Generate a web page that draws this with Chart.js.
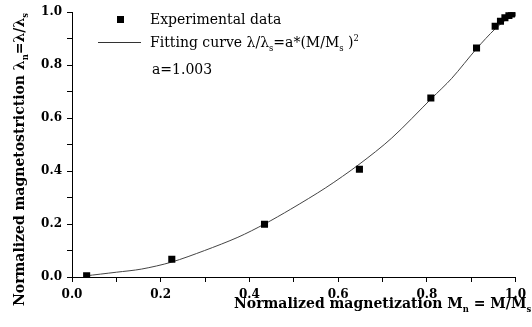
<!DOCTYPE html>
<html lang="en">
<head>
    <meta charset="UTF-8">
    <title>Normalized magnetostriction vs magnetization</title>
    <script src="https://cdn.jsdelivr.net/npm/chart.js"></script>
    <style>
        body {
            margin: 0;
            background-color: #fff;
        }
        canvas {
            display: block;
        }
    </style>
</head>
<body>
    <canvas id="magChart" width="532" height="327"></canvas>

    <script>
        // Experimental points
        const expX = [0.033, 0.225, 0.434, 0.648, 0.809, 0.912, 0.954, 0.966, 0.976, 0.985, 0.991, 0.996];
        const expY = [0.005, 0.067, 0.199, 0.407, 0.676, 0.865, 0.947, 0.966, 0.979, 0.988, 0.993, 0.997];

        // Fitted curve
        const fitX = [0.029, 0.100, 0.157, 0.224, 0.299, 0.374, 0.434, 0.493, 0.572, 0.647, 0.721, 0.811, 0.856, 0.912, 0.954, 0.999];
        const fitY = [0.004, 0.018, 0.030, 0.056, 0.100, 0.150, 0.200, 0.256, 0.337, 0.425, 0.525, 0.675, 0.750, 0.862, 0.937, 1.000];

        const tickLabels = ['0.0', '0.2', '0.4', '0.6', '0.8', '1.0'];

        const serif = '"DejaVu Serif", serif';

        // draws a run of text pieces, some of them sub- or superscript
        function drawRich(ctx, parts, x, y, size, weight) {
            let cx = x;
            parts.forEach(p => {
                let s = size, dy = 0;
                if (p.sub) { s = size * 0.6; dy = size * 0.3; }
                if (p.sup) { s = size * 0.6; dy = -size * 0.45; }
                ctx.font = weight + ' ' + s + 'px ' + serif;
                ctx.fillText(p.t, cx, y + dy);
                cx += ctx.measureText(p.t).width;
            });
            return cx;
        }

        const overlay = {
            id: 'overlay',
            afterDraw(chart) {
                const ctx = chart.ctx;
                ctx.save();
                ctx.fillStyle = '#000';
                ctx.textBaseline = 'alphabetic';
                ctx.textAlign = 'left';

                // x axis title
                drawRich(ctx, [
                    { t: 'Normalized magnetization M' }, { t: 'n', sub: true },
                    { t: ' = M/M' }, { t: 's', sub: true }
                ], 234, 308, 14, 'bold');

                // y axis title
                ctx.save();
                ctx.translate(24, 306);
                ctx.rotate(-Math.PI / 2);
                drawRich(ctx, [
                    { t: 'Normalized magnetostriction \u03bb' }, { t: 'n', sub: true },
                    { t: '=\u03bb/\u03bb' }, { t: 's', sub: true }
                ], 0, 0, 14, 'bold');
                ctx.restore();

                // legend
                ctx.fillRect(117, 16, 7, 7);
                drawRich(ctx, [{ t: chart.data.datasets[0].label }], 150, 24, 14, 'normal');
                ctx.strokeStyle = '#333';
                ctx.lineWidth = 1;
                ctx.beginPath();
                ctx.moveTo(98, 42.5);
                ctx.lineTo(141, 42.5);
                ctx.stroke();
                drawRich(ctx, [
                    { t: chart.data.datasets[1].label + ' \u03bb/\u03bb' }, { t: 's', sub: true },
                    { t: '=a*(M/M' }, { t: 's', sub: true }, { t: ' )' }, { t: '2', sup: true }
                ], 150, 47, 14, 'normal');
                drawRich(ctx, [{ t: 'a=1.003' }], 152, 74, 14, 'normal');
                ctx.restore();
            }
        };

        const tickFont = { family: serif, size: 12, weight: 'bold' };

        function axisOptions(pad) {
            return {
                type: 'linear',
                min: 0,
                max: 1,
                grid: {
                    drawOnChartArea: false,
                    drawTicks: true,
                    tickLength: 5,
                    tickColor: '#000'
                },
                border: { display: true, color: '#000', width: 1 },
                ticks: {
                    stepSize: 0.1,
                    color: '#000',
                    font: tickFont,
                    padding: pad,
                    maxRotation: 0,
                    autoSkip: false,
                    callback: function (value) {
                        const i = Math.round(value * 10);
                        return i % 2 === 0 ? tickLabels[i / 2] : '';
                    }
                }
            };
        }

        const xAxis = axisOptions(6);
        xAxis.afterFit = scale => { scale.height = 50; };
        const yAxis = axisOptions(5);
        yAxis.afterFit = scale => { scale.width = 72; };

        const ctx = document.getElementById('magChart').getContext('2d');
        new Chart(ctx, {
            type: 'scatter',
            data: {
                datasets: [{
                    label: 'Experimental data',
                    data: expX.map((x, i) => ({ x: x, y: expY[i] })),
                    pointStyle: 'rect',
                    pointRadius: 5,
                    backgroundColor: '#000',
                    borderColor: '#000',
                    borderWidth: 0,
                    showLine: false,
                    order: 0
                }, {
                    label: 'Fitting curve',
                    data: fitX.map((x, i) => ({ x: x, y: fitY[i] })),
                    showLine: true,
                    pointRadius: 0,
                    borderColor: '#444',
                    borderWidth: 1,
                    tension: 0.3,
                    order: 1
                }]
            },
            options: {
                responsive: false,
                animation: false,
                layout: { padding: { left: 0, right: 15, top: 10, bottom: 0 } },
                scales: { x: xAxis, y: yAxis },
                plugins: {
                    legend: { display: false },
                    tooltip: { enabled: false }
                }
            },
            plugins: [overlay]
        });
    </script>
</body>
</html>
